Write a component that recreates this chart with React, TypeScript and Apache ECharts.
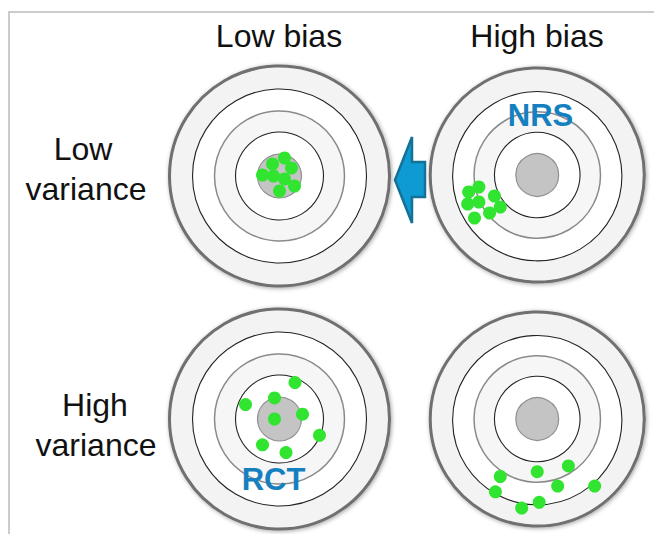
import React, { useEffect, useRef } from "react";
import * as echarts from "echarts";

// Panel labels
const columnLabels = ["Low bias", "High bias"];
const rowLabels = [["Low", "variance"], ["High", "variance"]];
const studyLabels = ["NRS", "RCT"];

// Target ring radii (in target units; outer ring = 1.10)
const ringRadii = [1.1, 0.87, 0.65, 0.44, 0.22];

// Shots relative to bullseye (x right, y up), one list per panel
const lowBiasLowVar = [
  [0.05, 0.18], [-0.07, 0.12], [0.12, 0.08], [-0.17, 0.01],
  [-0.06, 0.0], [0.05, -0.03], [0.15, -0.1], [0.0, -0.15],
];
const highBiasLowVar = [
  [-0.6, -0.12], [-0.705, -0.17], [-0.44, -0.21], [-0.6, -0.27],
  [-0.715, -0.29], [-0.38, -0.32], [-0.49, -0.38], [-0.645, -0.43],
];
const lowBiasHighVar = [
  [0.155, 0.38], [-0.05, 0.22], [-0.34, 0.15], [0.23, 0.05],
  [-0.05, 0.0], [0.4, -0.17], [-0.17, -0.27], [0.065, -0.35],
];
const highBiasHighVar = [
  [0.32, -0.49], [0.0, -0.55], [-0.38, -0.6], [0.21, -0.7],
  [0.59, -0.7], [-0.43, -0.76], [0.02, -0.87], [-0.16, -0.93],
];

const panels = [
  { left: 159.5, top: 56, shots: lowBiasLowVar },
  { left: 420.5, top: 55, shots: highBiasLowVar },
  { left: 159.5, top: 304, shots: lowBiasHighVar },
  { left: 420.5, top: 304, shots: highBiasHighVar },
];

const FONT = "Liberation Sans, Arial, sans-serif";

export default function App() {
  const ref = useRef<HTMLDivElement>(null);

  useEffect(() => {
    if (!ref.current) return;
    const chart = echarts.init(ref.current, undefined, { renderer: "svg" });

    const grids = panels.map((p) => ({ left: p.left, top: p.top, width: 240, height: 240 }));
    const axisCommon = { type: "value", min: -1.2, max: 1.2, show: false };
    const xAxis = panels.map((_, i) => ({ ...axisCommon, gridIndex: i }));
    const yAxis = panels.map((_, i) => ({ ...axisCommon, gridIndex: i }));

    const ringStyles = [
      { fill: "#f3f3f3", stroke: "#6f6f6f", lineWidth: 3, shadowBlur: 4, shadowColor: "rgba(0,0,0,0.35)", shadowOffsetX: 1, shadowOffsetY: 1 },
      { fill: "#ffffff", stroke: "#222222", lineWidth: 1.1 },
      { fill: "#f6f6f6", stroke: "#8a8a8a", lineWidth: 1.5 },
      { fill: "#ffffff", stroke: "#222222", lineWidth: 1.1 },
      { fill: "#c4c4c4", stroke: "#909090", lineWidth: 1.2 },
    ];

    const targetSeries = panels.map((_, i) => ({
      type: "custom",
      xAxisIndex: i,
      yAxisIndex: i,
      z: 1,
      data: [[0, 0]],
      renderItem: (params: any, api: any) => {
        const c = api.coord([0, 0]);
        const u = api.size([1, 1])[0];
        return {
          type: "group",
          children: ringRadii.map((r, k) => ({
            type: "circle",
            shape: { cx: c[0], cy: c[1], r: r * u },
            style: ringStyles[k],
          })),
        };
      },
    }));

    const shotSeries = panels.map((p, i) => ({
      type: "scatter",
      xAxisIndex: i,
      yAxisIndex: i,
      z: 3,
      symbolSize: 13,
      itemStyle: { color: "#30e430", opacity: 1 },
      data: p.shots,
    }));

    const textStyle = (text: string, size: number, bold = false, fill = "#111") => ({
      text,
      font: `${bold ? "bold " : ""}${size}px ${FONT}`,
      fill,
      align: "center",
      verticalAlign: "middle",
    });

    const graphic: any[] = [
      { type: "line", shape: { x1: 8, y1: 12, x2: 654, y2: 12 }, style: { stroke: "#cccccc", lineWidth: 2 }, z: 0 },
      { type: "line", shape: { x1: 9, y1: 11, x2: 9, y2: 534 }, style: { stroke: "#cccccc", lineWidth: 2 }, z: 0 },
      { type: "text", x: 279, y: 36, style: textStyle(columnLabels[0], 32), z: 10 },
      { type: "text", x: 537, y: 36, style: textStyle(columnLabels[1], 32), z: 10 },
      { type: "text", x: 83, y: 149, style: textStyle(rowLabels[0][0], 32), z: 10 },
      { type: "text", x: 86, y: 189, style: textStyle(rowLabels[0][1], 32), z: 10 },
      { type: "text", x: 95, y: 405, style: textStyle(rowLabels[1][0], 32), z: 10 },
      { type: "text", x: 96, y: 445, style: textStyle(rowLabels[1][1], 32), z: 10 },
      { type: "text", x: 540.5, y: 115, style: textStyle(studyLabels[0], 31, true, "#1580c0"), z: 10 },
      { type: "text", x: 273.5, y: 479, style: textStyle(studyLabels[1], 31, true, "#1580c0"), z: 10 },
      {
        type: "polygon",
        z: 10,
        shape: {
          points: [
            [395, 180], [412, 137], [412, 162], [425, 162],
            [425, 197], [412, 197], [412, 223],
          ],
        },
        style: { fill: "#0e9ad2", stroke: "#137296", lineWidth: 2.5, lineJoin: "miter" },
      },
    ];

    chart.setOption({
      animation: false,
      backgroundColor: "#ffffff",
      grid: grids,
      xAxis,
      yAxis,
      series: [...targetSeries, ...shotSeries],
      graphic,
    } as any);

    return () => chart.dispose();
  }, []);

  return (
    <div
      ref={ref}
      style={{ position: "fixed", left: 0, top: 0, width: 654, height: 534 }}
    />
  );
}
